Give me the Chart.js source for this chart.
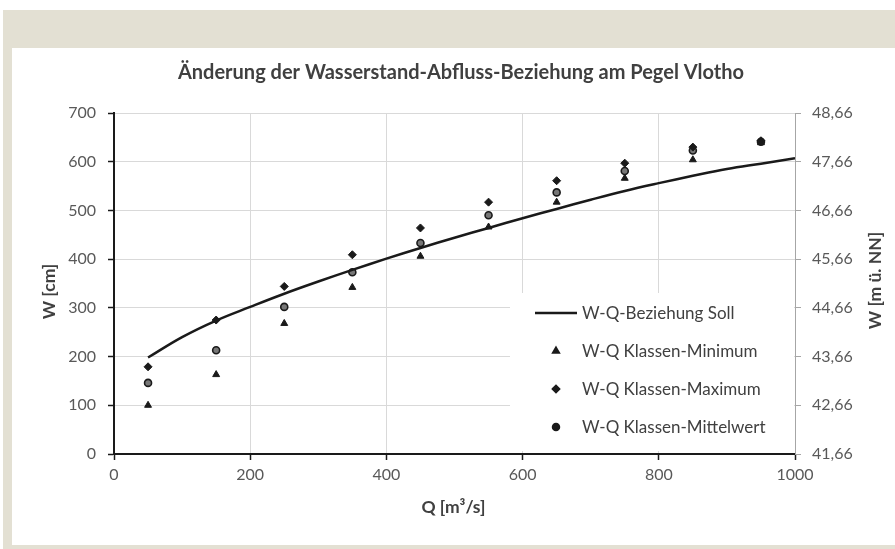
<!DOCTYPE html>
<html>
<head>
<meta charset="utf-8">
<script src="https://cdn.jsdelivr.net/npm/chart.js@4/dist/chart.umd.min.js"></script>
<style>
  html, body { margin: 0; padding: 0; background: #fff; width: 895px; height: 549px; overflow: hidden; }
  #frame { position: absolute; left: 3px; top: 10px; width: 892px; height: 539px; background: #e3e0d3; }
  #panel { position: absolute; left: 12px; top: 48px; width: 883px; height: 497px; background: #fff; }
</style>
</head>
<body>
<div id="frame"></div>
<div id="panel"><canvas id="c"></canvas></div>
<script>
// Abfluss-Klassen (Klassenmitte) und Wasserstände je Klasse [cm]
const qClasses = [50, 150, 250, 350, 450, 550, 650, 750, 850, 950];
const wMin     = [100, 163, 268, 342, 406, 466, 517, 566, 604, 639];
const wMax     = [179, 275, 344, 409, 464, 517, 561, 597, 630, 643];
const wMean    = [146, 213, 302, 373, 433, 490, 537, 581, 623, 641];

// Soll-Beziehung W(Q)
const qSoll = [50, 100, 150, 200, 250, 300, 350, 400, 450, 500, 550, 600, 650, 700, 750, 800, 850, 900, 950, 1000];
const wSoll = [198, 240, 274, 302, 329, 354, 378, 401, 423, 444, 464, 484, 503, 522, 540, 556, 571, 585, 596, 607];

// Achsenbeschriftungen
const qTicks  = [0, 200, 400, 600, 800, 1000];
const wTicks  = [0, 100, 200, 300, 400, 500, 600, 700];
const nnTicks = [41.66, 42.66, 43.66, 44.66, 45.66, 46.66, 47.66, 48.66];

const seriesLabels = [
  'W-Q-Beziehung Soll',
  'W-Q Klassen-Minimum',
  'W-Q Klassen-Maximum',
  'W-Q Klassen-Mittelwert'
];
const chartTitle = 'Änderung der Wasserstand-Abfluss-Beziehung am Pegel Vlotho';
const titleQ  = 'Q [m³/s]';
const titleW  = 'W [cm]';
const titleNN = 'W [m ü. NN]';

const FONT = 'Lato, "Open Sans", sans-serif';
const INK = '#1a1a1a';
const TEXT = '#404040';
const TICKTEXT = '#595959';
const GRID = '#d9d9d9';

const pts = (xs, ys) => xs.map((x, i) => ({ x: x, y: ys[i] }));

// Titel, Achsentitel und Legende werden direkt auf die Zeichenfläche gesetzt
const overlay = {
  id: 'overlay',
  beforeDatasetsDraw(chart) {
    const a = chart.chartArea, ctx = chart.ctx;
    ctx.save();
    ctx.fillStyle = '#fff';
    ctx.fillRect(a.left + 396, a.top + 180, a.right - a.left - 397, a.bottom - a.top - 183);
    ctx.restore();
  },
  afterDraw(chart) {
    const a = chart.chartArea, ctx = chart.ctx;
    ctx.save();
    ctx.fillStyle = TEXT;
    ctx.textAlign = 'center';
    ctx.textBaseline = 'middle';

    ctx.font = 'bold 20px ' + FONT;
    ctx.fillText(chartTitle, 449, 25);

    ctx.font = 'bold 17.5px ' + FONT;
    ctx.fillText(titleQ, (a.left + a.right) / 2 - 1, 459);

    ctx.save();
    ctx.translate(37, (a.top + a.bottom) / 2 + 8);
    ctx.rotate(-Math.PI / 2);
    ctx.fillText(titleW, 0, 0);
    ctx.restore();

    ctx.save();
    ctx.translate(863, (a.top + a.bottom) / 2 - 3);
    ctx.rotate(-Math.PI / 2);
    ctx.fillText(titleNN, 0, 0);
    ctx.restore();

    // Legende
    ctx.font = '17px ' + FONT;
    ctx.textAlign = 'left';
    const x0 = a.left + 421, xm = a.left + 442, xt = a.left + 468;
    chart.data.datasets.forEach((ds, i) => {
      const y = a.top + 200 + i * 38;
      if (ds.showLine) {
        ctx.strokeStyle = INK;
        ctx.lineWidth = 2.5;
        ctx.beginPath();
        ctx.moveTo(x0, y);
        ctx.lineTo(x0 + 42, y);
        ctx.stroke();
      } else {
        ctx.fillStyle = INK;
        ctx.strokeStyle = INK;
        Chart.helpers.drawPoint(ctx, { pointStyle: ds.pointStyle, radius: 3, borderWidth: 1 }, xm, y);
      }
      ctx.fillStyle = TEXT;
      ctx.fillText(ds.label, xt, y + 1);
    });
    ctx.restore();
  }
};

new Chart(document.getElementById('c'), {
  type: 'line',
  data: {
    datasets: [
      {
        label: seriesLabels[0],
        data: pts(qSoll, wSoll),
        showLine: true,
        borderColor: INK,
        borderWidth: 2.5,
        pointRadius: 0,
        tension: 0.4,
        yAxisID: 'y'
      },
      {
        label: seriesLabels[1],
        data: pts(qClasses, wMin),
        showLine: false,
        pointStyle: 'triangle',
        pointRadius: 4,
        backgroundColor: INK,
        borderColor: INK,
        borderWidth: 1,
        yAxisID: 'y'
      },
      {
        label: seriesLabels[2],
        data: pts(qClasses, wMax),
        showLine: false,
        pointStyle: 'rectRot',
        pointRadius: 4,
        backgroundColor: INK,
        borderColor: INK,
        borderWidth: 1,
        yAxisID: 'y'
      },
      {
        label: seriesLabels[3],
        data: pts(qClasses, wMean),
        showLine: false,
        pointStyle: 'circle',
        pointRadius: 3.5,
        backgroundColor: '#777',
        borderColor: INK,
        borderWidth: 1.6,
        yAxisID: 'y'
      }
    ]
  },
  options: {
    responsive: true,
    maintainAspectRatio: false,
    animation: false,
    events: [],
    layout: { padding: { top: 65, left: 0, right: 0, bottom: 0 } },
    plugins: {
      legend: { display: false },
      title: { display: false },
      tooltip: { enabled: false }
    },
    scales: {
      x: {
        type: 'linear',
        min: 0, max: 1000,
        afterBuildTicks: s => { s.ticks = qTicks.map(v => ({ value: v })); },
        afterFit: s => { s.height = 91; },
        grid: { color: GRID, lineWidth: 1, tickColor: INK, tickLength: 6, tickWidth: 1.5 },
        border: { color: INK, width: 2 },
        ticks: {
          color: TICKTEXT, font: { family: FONT, size: 16 }, padding: 5, maxRotation: 0,
          callback: v => String(v)
        }
      },
      y: {
        type: 'linear',
        position: 'left',
        min: 0, max: 700,
        afterBuildTicks: s => { s.ticks = wTicks.map(v => ({ value: v })); },
        afterFit: s => { s.width = 102; },
        grid: { color: GRID, lineWidth: 1, tickColor: INK, tickLength: 6, tickWidth: 1.5 },
        border: { color: INK, width: 2 },
        ticks: { color: TICKTEXT, font: { family: FONT, size: 16 }, padding: 12, callback: v => String(v) }
      },
      y2: {
        type: 'linear',
        position: 'right',
        min: 41.66, max: 48.66,
        afterBuildTicks: s => { s.ticks = nnTicks.map(v => ({ value: v })); },
        afterFit: s => { s.width = 100; },
        grid: { drawOnChartArea: false, tickColor: '#a6a6a6', tickLength: 6, tickWidth: 1 },
        border: { color: '#a6a6a6', width: 1 },
        ticks: {
          color: TICKTEXT, font: { family: FONT, size: 16 }, padding: 11,
          callback: v => v.toFixed(2).replace('.', ',')
        }
      }
    }
  },
  plugins: [overlay]
});
</script>
</body>
</html>
